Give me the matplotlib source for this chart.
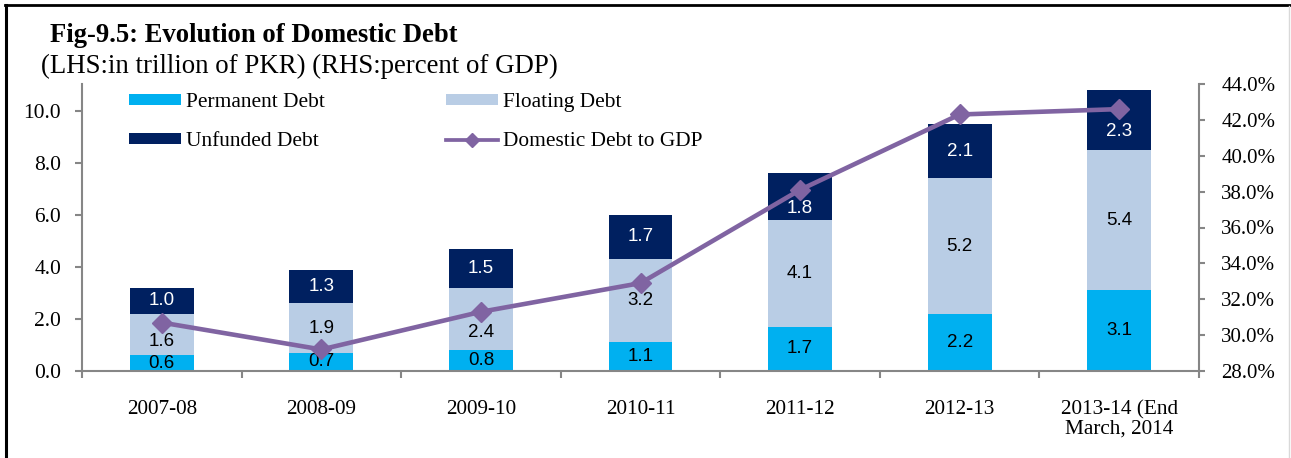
import numpy as np
import matplotlib.pyplot as plt
from matplotlib.patches import Patch
from matplotlib.lines import Line2D
from matplotlib.ticker import FuncFormatter

# Domestic debt components (trillion PKR) and debt-to-GDP ratio (%)
years = ["2007-08", "2008-09", "2009-10", "2010-11", "2011-12", "2012-13",
         "2013-14 (End\nMarch, 2014"]
permanent = [0.6, 0.7, 0.8, 1.1, 1.7, 2.2, 3.1]
floating = [1.6, 1.9, 2.4, 3.2, 4.1, 5.2, 5.4]
unfunded = [1.0, 1.3, 1.5, 1.7, 1.8, 2.1, 2.3]
debt_to_gdp = [30.7, 29.2, 31.3, 32.9, 38.1, 42.3, 42.6]

# colours
c_perm = "#00B0F0"
c_float = "#B9CDE5"
c_unf = "#002060"
c_line = "#8064A2"
c_axis = "#868686"

serif = "Liberation Serif"
sans = "Liberation Sans"
plt.rcParams["font.family"] = serif

W, H = 1291, 458
fig = plt.figure(figsize=(W / 100, H / 100), dpi=100)
ax = fig.add_axes([82 / W, 87 / H, (1199 - 82) / W, (371 - 84) / H])

x = np.arange(len(years))
bw = 0.40
perm = np.array(permanent)
flt = np.array(floating)
unf = np.array(unfunded)

ax.bar(x, perm, bw, color=c_perm, zorder=2)
ax.bar(x, flt, bw, bottom=perm, color=c_float, zorder=2)
ax.bar(x, unf, bw, bottom=perm + flt, color=c_unf, zorder=2)

# segment labels; a few are nudged down (points) so the line doesn't cover them
nudge_float = {0: -5, 2: -9.5}
nudge_unf = {4: -8.5, 6: -8.5}
lbl = dict(textcoords="offset points", ha="center", va="center",
           fontsize=13.5, family=sans, zorder=3)
for i in x:
    ax.annotate(f"{perm[i]:.1f}", (i, perm[i] / 2), xytext=(0, 0),
                color="black", **lbl)
    ax.annotate(f"{flt[i]:.1f}", (i, perm[i] + flt[i] / 2),
                xytext=(0, nudge_float.get(i, 0)), color="black", **lbl)
    ax.annotate(f"{unf[i]:.1f}", (i, perm[i] + flt[i] + unf[i] / 2),
                xytext=(0, nudge_unf.get(i, 0)), color="white", **lbl)

ax.set_xlim(-0.5, len(years) - 0.5)
ax.set_ylim(0, 11.03)
ax.set_yticks(np.arange(0, 10.1, 2))
ax.yaxis.set_major_formatter(FuncFormatter(lambda v, p: f"{v:.1f}"))

# category labels centred, tick marks between categories
ax.set_xticks(np.arange(-0.5, len(years), 1))
ax.set_xticklabels([])
ax.set_xticks(x, minor=True)
ax.set_xticklabels(years, minor=True, fontsize=15.3, linespacing=1.0)
ax.tick_params(axis="x", which="major", length=5, width=1.5, color=c_axis)
ax.tick_params(axis="x", which="minor", length=0, pad=21)
ax.tick_params(axis="y", length=5, width=1.5, color=c_axis, labelsize=15.5, pad=10)

for s in ["top", "right"]:
    ax.spines[s].set_visible(False)
for s in ["left", "bottom"]:
    ax.spines[s].set_color(c_axis)
    ax.spines[s].set_linewidth(1.5)

# secondary axis: debt to GDP
ax2 = ax.twinx()
ax2.plot(x, debt_to_gdp, color=c_line, lw=3.3, marker="D", markersize=10, zorder=5)
ax2.set_ylim(28, 44)
ax2.set_yticks(np.arange(28, 44.1, 2))
ax2.yaxis.set_major_formatter(FuncFormatter(lambda v, p: f"{v:.1f}%"))
ax2.tick_params(axis="y", length=4, width=1.5, color=c_axis, labelsize=15, pad=12)
for s in ["top", "left", "bottom"]:
    ax2.spines[s].set_visible(False)
ax2.spines["right"].set_color(c_axis)
ax2.spines["right"].set_linewidth(1.5)

# legend
handles = [
    Patch(facecolor=c_perm, label="Permanent Debt"),
    Patch(facecolor=c_unf, label="Unfunded Debt"),
    Patch(facecolor=c_float, label="Floating Debt"),
    Line2D([], [], color=c_line, lw=2.7, marker="D", markersize=7.5,
           label="Domestic Debt to GDP"),
]
fig.legend(handles=handles, loc="upper left", bbox_to_anchor=(129 / W, 1 - 93 / H),
           ncol=2, frameon=False, fontsize=15.4, borderpad=0, borderaxespad=0,
           handlelength=2.43, handleheight=0.42, handletextpad=0.23,
           columnspacing=5.65, labelspacing=0.95)

# titles
fig.text(50 / W, 1 - 42 / H, "Fig-9.5: Evolution of Domestic Debt",
         fontsize=19.2, fontweight="bold", va="baseline", ha="left")
fig.text(41 / W, 1 - 73 / H, "(LHS:in trillion of PKR) (RHS:percent of GDP)",
         fontsize=19.4, va="baseline", ha="left")

# frame around the figure
fig.add_artist(Line2D([6 / W, 6 / W], [0, 1 - 5 / H], transform=fig.transFigure,
                      color="black", lw=2.2))
fig.add_artist(Line2D([5 / W, 1], [1 - 5 / H, 1 - 5 / H], transform=fig.transFigure,
                      color="black", lw=2))
fig.add_artist(Line2D([1289 / W, 1289 / W], [0, 1 - 6 / H], transform=fig.transFigure,
                      color="#d9d9d9", lw=1))

fig.savefig("out.png", dpi=100)
